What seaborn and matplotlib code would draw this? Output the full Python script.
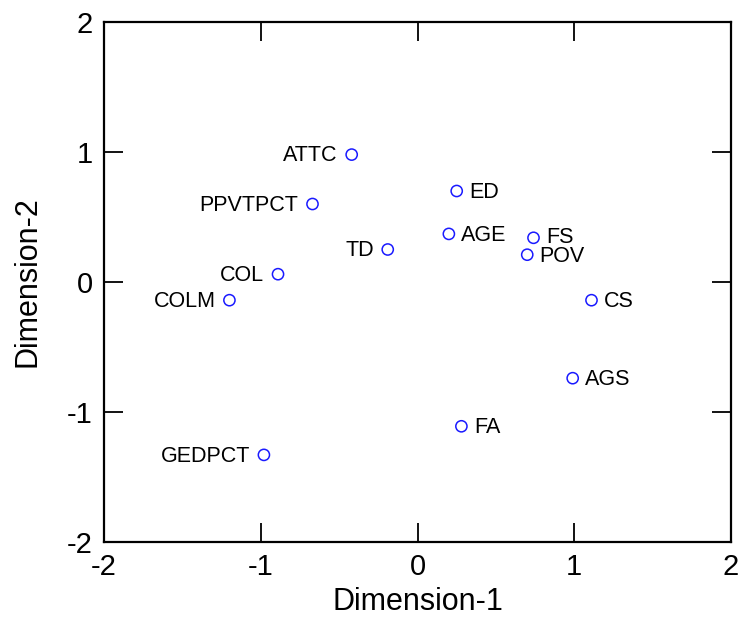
import pandas as pd
import matplotlib
matplotlib.use("Agg")
import matplotlib.pyplot as plt
import seaborn as sns

# coordinates
labels = ["ATTC", "ED", "PPVTPCT", "AGE", "FS", "TD", "POV",
          "COL", "COLM", "CS", "AGS", "FA", "GEDPCT"]
dim1 = [-0.42, 0.25, -0.67, 0.20, 0.74, -0.19, 0.70,
        -0.89, -1.20, 1.11, 0.99, 0.28, -0.98]
dim2 = [0.98, 0.70, 0.60, 0.37, 0.34, 0.25, 0.21,
        0.06, -0.14, -0.14, -0.74, -1.11, -1.33]
side = ["left", "right", "left", "right", "right", "left", "right",
        "left", "left", "right", "right", "right", "left"]

ticks = [-2, -1, 0, 1, 2]

df = pd.DataFrame({"Dimension-1": dim1, "Dimension-2": dim2,
                   "label": labels, "side": side})

sns.set_style("ticks")
plt.rcParams["font.family"] = ["Liberation Sans", "DejaVu Sans"]
plt.rcParams["text.color"] = "black"
plt.rcParams["axes.labelcolor"] = "black"
plt.rcParams["xtick.color"] = "black"
plt.rcParams["ytick.color"] = "black"
plt.rcParams["axes.edgecolor"] = "black"

fig = plt.figure(figsize=(7.41, 6.27), dpi=100)
ax = fig.add_axes([0.1404, 0.1356, 0.8461, 0.8293])

sns.scatterplot(data=df, x="Dimension-1", y="Dimension-2", ax=ax,
                marker="o", s=65, facecolor="none", edgecolor="#1a1aff",
                linewidth=1.1)

for _, r in df.iterrows():
    dy = -1
    if r["label"] == "FS":
        dy = 0.5
    if r["label"] == "POV":
        dy = -1.5
    if r["side"] == "right":
        ax.annotate(r["label"], (r["Dimension-1"], r["Dimension-2"]),
                    xytext=(9, dy), textcoords="offset points",
                    ha="left", va="center", fontsize=15.5)
    else:
        ax.annotate(r["label"], (r["Dimension-1"], r["Dimension-2"]),
                    xytext=(-10, dy), textcoords="offset points",
                    ha="right", va="center", fontsize=15.5)

ax.set_xlim(-2, 2)
ax.set_ylim(-2, 2)
ax.set_xticks(ticks)
ax.set_yticks(ticks)
ax.set_xticklabels([str(t) for t in ticks])
ax.set_yticklabels([str(t) for t in ticks])
ax.tick_params(direction="in", length=14, width=1.3, labelsize=21,
               top=True, right=True, pad=8)
for sp in ax.spines.values():
    sp.set_linewidth(1.6)
    sp.set_visible(True)

ax.set_xlabel("Dimension-1", fontsize=22, labelpad=4)
ax.set_ylabel("Dimension-2", fontsize=22, labelpad=18)

fig.savefig("out.png", dpi=100)
plt.close(fig)
